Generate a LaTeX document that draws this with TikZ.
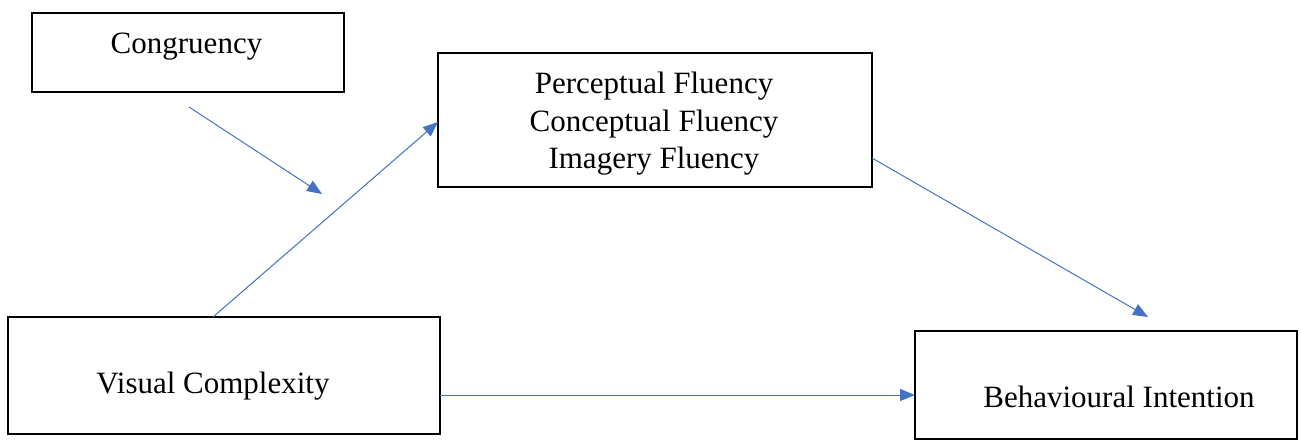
\documentclass[tikz,border=0pt]{standalone}
\usepackage{fontspec}
\setmainfont{Liberation Serif}
\usetikzlibrary{arrows.meta,calc}
\definecolor{arrowblue}{HTML}{4472C4}
\tikzset{
  box/.style={draw=black, line width=1.2pt, rectangle, inner sep=0pt, outer sep=0pt},
  lbl/.style={font=\fontsize{31}{37.5}\selectfont, inner sep=0pt, anchor=base},
  conn/.style={draw=arrowblue, line width=1pt, -{Triangle[length=15pt,width=12pt]}}
}
\begin{document}
\begin{tikzpicture}[x=1pt,y=-1pt]
\useasboundingbox (0,0) rectangle (1301,440);
% boxes
\node[box, minimum width=312pt, minimum height=79pt] (cong) at (188,52.5) {};
\node[box, minimum width=434pt, minimum height=134pt] (perc) at (655,120) {};
\node[box, minimum width=432pt, minimum height=117pt] (vc) at (224,375.5) {};
\node[box, minimum width=382pt, minimum height=108pt] (bi) at (1106,385) {};
% texts
\node[lbl] (tcong) at (186.5,53) {Congruency};
\node[lbl] (tperc1) at (654,93) {Perceptual Fluency};
\node[lbl] (tperc2) at (654,131) {Conceptual Fluency};
\node[lbl] (tperc3) at (654,168) {Imagery Fluency};
\node[lbl] (tvc) at (213,393) {Visual Complexity};
\node[lbl] (tbi) at (1119,407) {Behavioural Intention};
% connectors
\coordinate (cs) at ($(cong.south)+(1,15)$);
\coordinate (ce) at (322,194);
\draw[conn] (cs) -- (ce);
\draw[conn] ([xshift=-11pt]vc.north) -- ([yshift=-2pt]perc.west);
\draw[conn] ([yshift=29pt]perc.south east) -- ([xshift=42pt,yshift=14pt]bi.north);
\coordinate (hs) at ([yshift=-19.5pt]vc.east);
\draw[conn] (hs) -- (bi.west |- hs);
\end{tikzpicture}
\end{document}
